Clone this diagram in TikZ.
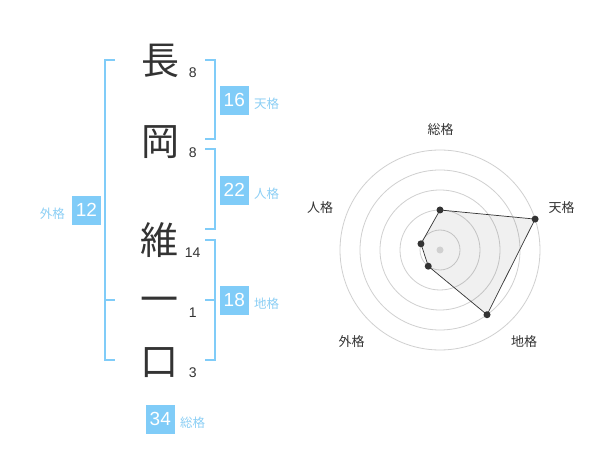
\documentclass[tikz,border=0pt]{standalone}
\usepackage{fontspec}
\setmainfont{Liberation Sans}
\newfontfamily\cjk{Noto Sans CJK JP}
\usetikzlibrary{positioning}
\definecolor{kakublue}{HTML}{80CCF8}
\definecolor{lblblue}{HTML}{8CCFF5}
\definecolor{ink}{HTML}{333333}
\definecolor{ringgray}{HTML}{D0D0D0}

\begin{document}
\begin{tikzpicture}[x=1pt,y=-1pt,
        kanji/.style = {text=ink, inner sep=0, text height=33.4pt, text depth=4.6pt, font=\cjk\fontsize{38}{38}\selectfont},
        strokes/.style = {text=ink, inner sep=0, font=\fontsize{14}{14}\selectfont},
        kbox/.style = {fill=kakublue, text=white, inner sep=0, minimum size=28.7pt, font=\fontsize{19}{19}\selectfont},
        klbl/.style = {text=lblblue, inner sep=0, text height=11pt, text depth=1.5pt, yshift=-3.5pt, font=\cjk\fontsize{12.5}{12.5}\selectfont},
        brk/.style = {draw=kakublue, line width=2pt},
        ring/.style = {draw=ringgray, line width=0.8pt},
        axis/.style = {text=ink, inner sep=0, text height=11.4pt, text depth=1.6pt, font=\cjk\fontsize{13}{13}\selectfont},
        dot/.style = {circle, fill=ink, inner sep=0, minimum size=7pt}]
        \useasboundingbox[fill=white] (0,0) rectangle (600,470);

        % name, one character per row
        \node[kanji] (c1) at (160,60) {長};
        \node[kanji] (c2) at (160,141) {岡};
        \node[kanji] (c3) at (159,240) {維};
        \node[kanji] (c4) at (159,299) {一};
        \node[kanji] (c5) at (159,361) {口};

        \node[strokes] (n1) at (192.7,72.7) {8};
        \node[strokes] (n2) at (192.7,152.7) {8};
        \node[strokes] (n3) at (192.7,252.7) {14};
        \node[strokes] (n4) at (192.7,312.7) {1};
        \node[strokes] (n5) at (192.7,372.7) {3};

        % brackets
        \draw[brk] (205,60) -- (215,60) -- (215,139.5) -- (205,139.5);
        \draw[brk] (205,149.3) -- (215,149.3) -- (215,229.3) -- (205,229.3);
        \draw[brk] (205,240) -- (215,240) -- (215,360) -- (205,360);
        \draw[brk] (205,300) -- (215,300);
        \draw[brk] (115,60) -- (105,60) -- (105,360) -- (115,360);
        \draw[brk] (105,300) -- (115,300);

        \node[kbox] (ten) at (234.3,100.3) {16};
        \node[klbl, right=5pt of ten] (tenl) {天格};
        \node[kbox] (jin) at (234.3,190.3) {22};
        \node[klbl, right=5pt of jin] (jinl) {人格};
        \node[kbox] (chi) at (234.3,300.3) {18};
        \node[klbl, right=5pt of chi] (chil) {地格};
        \node[kbox] (gai) at (86.5,210.3) {12};
        \node[klbl, left=7pt of gai] (gail) {外格};
        \node[kbox] (sou) at (160.3,419.3) {34};
        \node[klbl, right=5pt of sou] (soul) {総格};

        % radar chart
        \begin{scope}[shift={(440,250)}, y=1pt]
                \foreach \r in {20,40,...,100}
                        \draw[ring] (0,0) circle[radius=\r];

                \coordinate (p1) at (90:40);
                \coordinate (p2) at (18:100);
                \coordinate (p3) at (-54:80);
                \coordinate (p4) at (-126:20);
                \coordinate (p5) at (162:20);

                \fill[black, fill opacity=0.06] (p1) -- (p2) -- (p3) -- (p4) -- (p5) -- cycle;
                \fill[ringgray] (0,0) circle[radius=3.5];
                \draw[ink, line width=0.7pt] (p1) -- (p2) -- (p3) -- (p4) -- (p5) -- cycle;
                \foreach \i in {1,...,5}
                        \node[dot] (d\i) at (p\i) {};

                \node[axis] (a1) at (0.7,120) {総格};
                \node[axis] (a2) at (121.7,42) {天格};
                \node[axis] (a3) at (84,-91.7) {地格};
                \node[axis] (a4) at (-88.3,-91.7) {外格};
                \node[axis] (a5) at (-120,42) {人格};
        \end{scope}
\end{tikzpicture}
\end{document}
